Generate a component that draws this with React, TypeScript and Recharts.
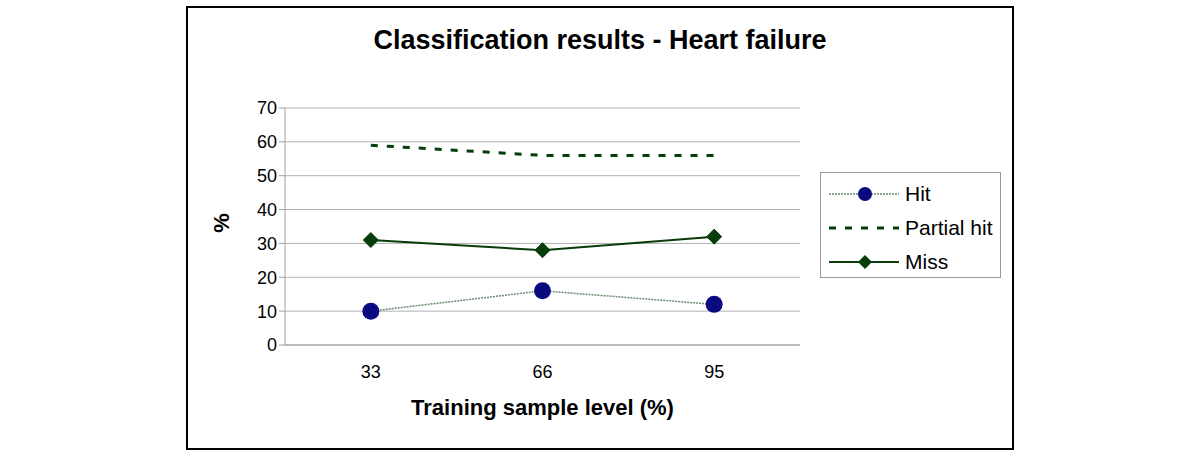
import { LineChart, Line, XAxis, YAxis, CartesianGrid } from "recharts";

const categories = ["33", "66", "95"];
const hit = [10, 16, 12];
const partialHit = [59, 56, 56];
const miss = [31, 28, 32];
const yTicks = [0, 10, 20, 30, 40, 50, 60, 70];

const data = categories.map((c, i) => ({
  level: c,
  pos: i + 0.5,
  hit: hit[i],
  partial: partialHit[i],
  miss: miss[i],
}));

const FONT = "'Liberation Sans', Arial, sans-serif";
const HIT_LINE = "#6f8a6f";
const NAVY = "#0a0a80";
const DARK_GREEN = "#063d0a";

function Diamond(props: any) {
  const { cx, cy } = props;
  if (cx == null || cy == null) return null;
  const r = 7.5;
  return (
    <path
      d={`M${cx},${cy - r} L${cx + r},${cy} L${cx},${cy + r} L${cx - r},${cy} Z`}
      fill={DARK_GREEN}
      stroke={DARK_GREEN}
    />
  );
}

function Circle(props: any) {
  const { cx, cy } = props;
  if (cx == null || cy == null) return null;
  return <circle cx={cx} cy={cy} r={8.5} fill={NAVY} />;
}

function LegendBox() {
  const rows = [
    { label: "Hit", kind: "hit" },
    { label: "Partial hit", kind: "partial" },
    { label: "Miss", kind: "miss" },
  ];
  return (
    <div
      style={{
        position: "absolute",
        left: 820,
        top: 172,
        width: 181,
        height: 106,
        border: "1px solid #999",
        background: "#fff",
        paddingTop: 4,
        boxSizing: "border-box",
        fontFamily: FONT,
        fontSize: 21,
        color: "#000",
      }}
    >
      {rows.map((r) => (
        <div key={r.kind} style={{ display: "flex", alignItems: "center", height: 34 }}>
          <svg width={74} height={20} style={{ marginLeft: 6, marginRight: 4 }}>
            {r.kind === "hit" && (
              <>
                <line x1={2} y1={10} x2={72} y2={10} stroke={HIT_LINE} strokeWidth={1.5} strokeDasharray="2 1" />
                <circle cx={38} cy={10} r={7} fill={NAVY} />
              </>
            )}
            {r.kind === "partial" && (
              <line x1={2} y1={10} x2={72} y2={10} stroke={DARK_GREEN} strokeWidth={3} strokeDasharray="7 9" />
            )}
            {r.kind === "miss" && (
              <>
                <line x1={2} y1={10} x2={72} y2={10} stroke={DARK_GREEN} strokeWidth={2} />
                <path d="M38,3 L45,10 L38,17 L31,10 Z" fill={DARK_GREEN} />
              </>
            )}
          </svg>
          <span>{r.label}</span>
        </div>
      ))}
    </div>
  );
}

export default function App() {
  return (
    <div style={{ position: "absolute", left: 0, top: 0, width: 1200, height: 467, background: "#fff" }}>
      <div
        style={{
          position: "absolute",
          left: 186,
          top: 6,
          width: 824,
          height: 440,
          border: "2px solid #000",
        }}
      />
      <div
        style={{
          position: "absolute",
          left: 186,
          width: 828,
          top: 25,
          textAlign: "center",
          fontFamily: FONT,
          fontWeight: "bold",
          fontSize: 27,
        }}
      >
        Classification results - Heart failure
      </div>
      <div
        style={{
          position: "absolute",
          left: 212,
          top: 210,
          transform: "rotate(-90deg)",
          fontFamily: FONT,
          fontWeight: "bold",
          fontSize: 22,
        }}
      >
        %
      </div>
      <div
        style={{
          position: "absolute",
          left: 285,
          width: 515,
          top: 395,
          textAlign: "center",
          fontFamily: FONT,
          fontWeight: "bold",
          fontSize: 22,
        }}
      >
        Training sample level (%)
      </div>
      <div style={{ position: "absolute", left: 0, top: 0 }}>
        <LineChart
          width={1200}
          height={467}
          data={data}
          margin={{ top: 108, right: 400, bottom: 92, left: 235 }}
        >
          <CartesianGrid vertical={false} stroke="#b0b0b0" />
          <XAxis
            dataKey="pos"
            type="number"
            domain={[0, 3]}
            ticks={[0.5, 1.5, 2.5]}
            tickFormatter={(v: number) => categories[Math.floor(v)]}
            tickLine={false}
            axisLine={{ stroke: "#a0a0a0" }}
            tick={{ fill: "#000", fontSize: 18, fontFamily: FONT }}
            tickMargin={14}
            height={30}
          />
          <XAxis
            xAxisId="marks"
            dataKey="pos"
            type="number"
            domain={[0, 3]}
            ticks={[0, 1, 2, 3]}
            tick={false}
            tickLine={{ stroke: "#a0a0a0" }}
            tickSize={6}
            axisLine={false}
            height={0}
          />
          <YAxis
            domain={[0, 70]}
            ticks={yTicks}
            width={50}
            axisLine={{ stroke: "#a0a0a0" }}
            tickLine={{ stroke: "#a0a0a0" }}
            tickSize={6}
            tick={{ fill: "#000", fontSize: 18, fontFamily: FONT }}
          />
          <Line
            dataKey="partial"
            stroke={DARK_GREEN}
            strokeWidth={3}
            strokeDasharray="7 9"
            dot={false}
            isAnimationActive={false}
          />
          <Line
            dataKey="miss"
            stroke={DARK_GREEN}
            strokeWidth={2}
            dot={<Diamond />}
            isAnimationActive={false}
          />
          <Line
            dataKey="hit"
            stroke={HIT_LINE}
            strokeWidth={1.5}
            strokeDasharray="2 1"
            dot={<Circle />}
            isAnimationActive={false}
          />
        </LineChart>
      </div>
      <LegendBox />
    </div>
  );
}
